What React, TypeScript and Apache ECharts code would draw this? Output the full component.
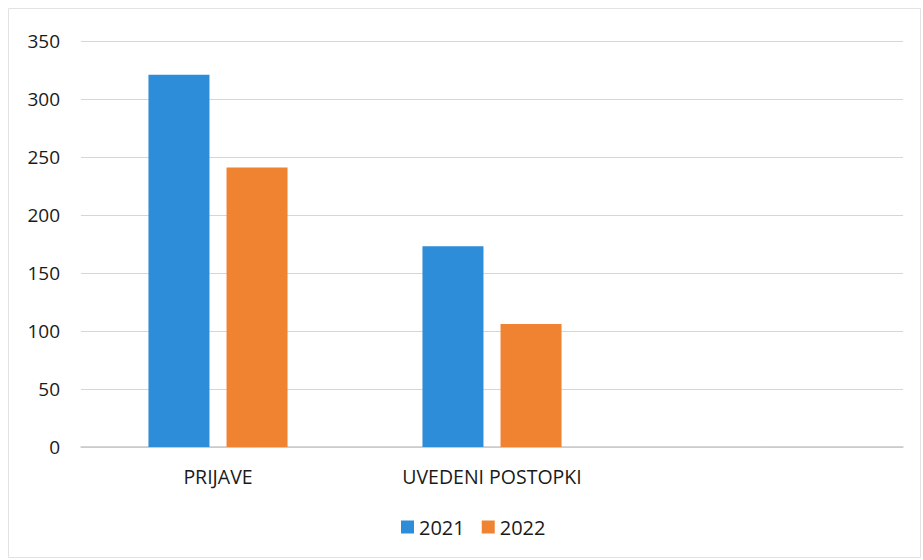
import React, { useEffect, useRef } from "react";
import * as echarts from "echarts";

const categories = ["PRIJAVE", "UVEDENI POSTOPKI", ""];
const series2021 = [321, 173, null];
const series2022 = [241, 106, null];
const yTicks = { min: 0, max: 350, interval: 50 };

export default function App() {
  const ref = useRef<HTMLDivElement>(null);
  useEffect(() => {
    document.body.style.margin = "0";
    const chart = echarts.init(ref.current!, null, { renderer: "svg" });
    const font = "Open Sans";
    chart.setOption({
      animation: false,
      backgroundColor: "#ffffff",
      textStyle: { fontFamily: font },
      graphic: [
        {
          type: "rect",
          shape: { x: 8.5, y: 8.5, width: 912, height: 549 },
          style: { fill: "none", stroke: "#e2e2e2", lineWidth: 1 },
          silent: true,
        },
      ],
      grid: { left: 81, right: 20, top: 41, bottom: 113 },
      legend: {
        top: 517,
        left: 401,
        padding: 0,
        itemWidth: 13,
        itemHeight: 13,
        itemGap: 17,
        icon: "rect",
        textStyle: { fontSize: 20, color: "#1a1a1a", fontFamily: font },
        data: ["2021", "2022"],
      },
      xAxis: {
        type: "category",
        data: categories,
        axisLine: { lineStyle: { color: "#c8c8c8", width: 1.5 } },
        axisTick: { show: false },
        axisLabel: { fontSize: 19.5, color: "#1a1a1a", margin: 19, fontFamily: font },
      },
      yAxis: {
        type: "value",
        min: yTicks.min,
        max: yTicks.max,
        interval: yTicks.interval,
        axisLine: { show: false },
        axisTick: { show: false },
        axisLabel: { fontSize: 19, color: "#1a1a1a", margin: 21, fontFamily: font },
        splitLine: { lineStyle: { color: "#d6d6d6", width: 1.2 } },
      },
      series: [
        {
          name: "2021",
          type: "bar",
          data: series2021,
          barWidth: 61,
          barGap: "28%",
          itemStyle: { color: "#2e8dd9" },
        },
        {
          name: "2022",
          type: "bar",
          data: series2022,
          barWidth: 61,
          itemStyle: { color: "#f08331" },
        },
      ],
    });
    return () => chart.dispose();
  }, []);
  return <div ref={ref} style={{ width: 923, height: 560 }} />;
}
